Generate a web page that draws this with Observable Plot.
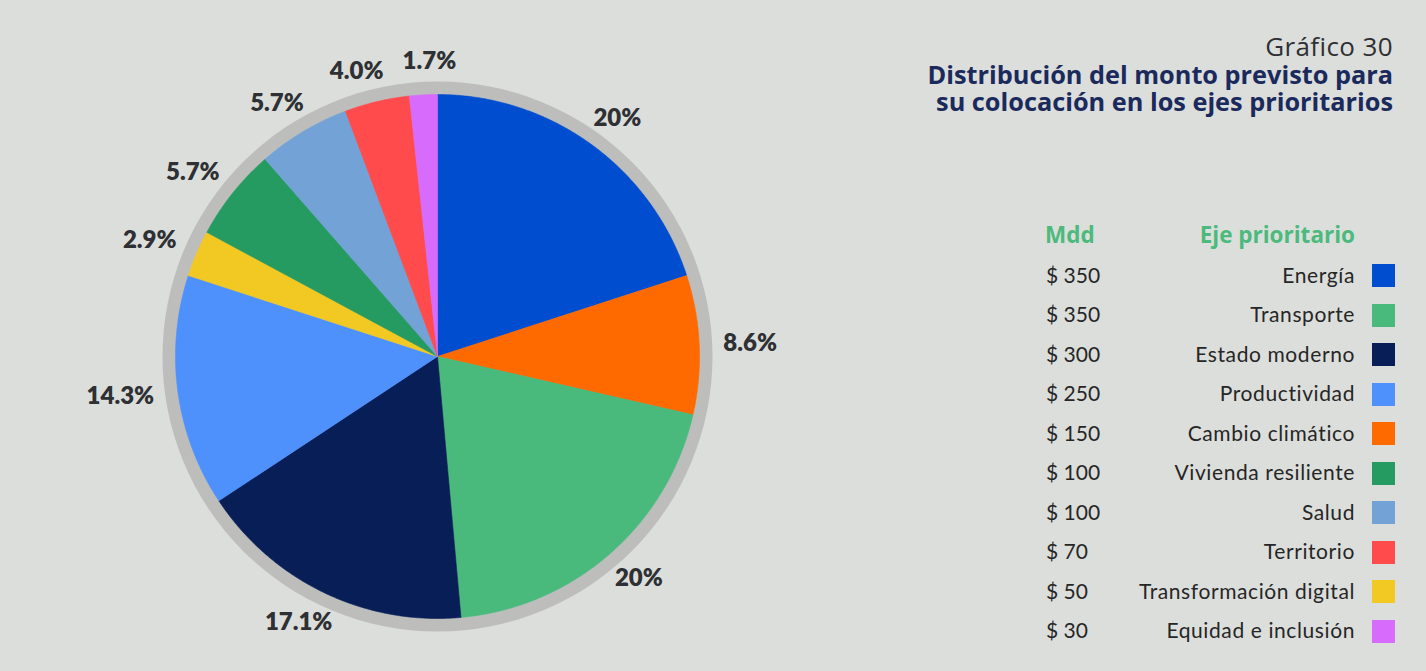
<!DOCTYPE html>
<html>
<head>
<meta charset="utf-8">
<script src="https://cdn.jsdelivr.net/npm/d3@7"></script>
<script src="https://cdn.jsdelivr.net/npm/@observablehq/plot@0.6"></script>
<style>
  html, body { margin: 0; padding: 0; }
  body { width: 1426px; height: 671px; background: #dcdedb; overflow: hidden; position: relative; font-family: Lato, "Open Sans", sans-serif; }
  #pie { position: absolute; left: 0; top: 0; }
  .title { position: absolute; right: 33px; text-align: right; white-space: nowrap; font-family: "Open Sans", Lato, sans-serif; }
  .t0 { top: 33px; font-size: 26px; letter-spacing: 0.4px; color: #2f3033; font-weight: 400; line-height: 27px; }
  .t1 { font-size: 25.3px; color: #1b2a5c; font-weight: 700; line-height: 27px; }
  .hdr { position: absolute; font-family: "Open Sans", Lato, sans-serif; font-size: 22.5px; font-weight: 700; color: #4cba7c; line-height: 28px; white-space: nowrap; }
  .row { position: absolute; font-size: 21px; color: #262626; line-height: 26px; white-space: nowrap; }
  .name { letter-spacing: 0.6px; }
  .sw { position: absolute; width: 23px; height: 23px; }
</style>
</head>
<body>
<div id="pie"></div>
<div class="title t0">Gráfico 30</div>
<div class="title t1" style="top:61px">Distribución del monto previsto para</div>
<div class="title t1" style="top:88px">su colocación en los ejes prioritarios</div>
<div id="legend"></div>
<script>
// Data (legend order)
const names = ["Energía","Transporte","Estado moderno","Productividad","Cambio climático","Vivienda resiliente","Salud","Territorio","Transformación digital","Equidad e inclusión"];
const mdd = [350,350,300,250,150,100,100,70,50,30];
const colors = ["#004dcf","#4aba7c","#081e57","#4f91fc","#ff6a00","#259b61","#72a2d6","#ff4b4b","#f2c922","#d66bfc"];
// Pie order (clockwise from 12 o'clock)
const pieOrder = ["Energía","Cambio climático","Transporte","Estado moderno","Productividad","Transformación digital","Vivienda resiliente","Salud","Territorio","Equidad e inclusión"];
const pctLabels = ["20%","8.6%","20%","17.1%","14.3%","2.9%","5.7%","5.7%","4.0%","1.7%"];
const legendHeaders = ["Mdd","Eje prioritario"];

const valueOf = Object.fromEntries(names.map((n, i) => [n, mdd[i]]));
const pieValues = pieOrder.map(n => valueOf[n]);
const arcs = d3.pie().sort(null).value(d => d)(pieValues);

const R = 262, RING = 275, LR = 282;
// Build slice polygons from the arc angles
const polys = [];
arcs.forEach((a, i) => {
  const name = pieOrder[i];
  polys.push({name, x: 0, y: 0});
  const n = Math.max(2, Math.ceil((a.endAngle - a.startAngle) / 0.008));
  for (let k = 0; k <= n; k++) {
    const t = a.startAngle + (a.endAngle - a.startAngle) * k / n;
    polys.push({name, x: R * Math.sin(t), y: R * Math.cos(t)});
  }
  polys.push({name, x: 0, y: 0});
});

// Label placement: just outside the ring at the mid-angle, spread apart when crowded
const lab = arcs.map((a, i) => ({text: pctLabels[i], m: (a.startAngle + a.endAngle) / 2, w: pctLabels[i].length * 14 + 16, h: 26}));
function pos(l) {
  return {x: LR * Math.sin(l.m) + Math.sin(l.m) * (l.w - 10) / 2, y: LR * Math.cos(l.m) + Math.cos(l.m) * l.h / 2};
}
for (let iter = 0; iter < 300; iter++) {
  let moved = false;
  for (let i = 0; i < lab.length; i++) {
    const a = lab[i], b = lab[(i + 1) % lab.length];
    const pa = pos(a), pb = pos(b);
    const ox = (a.w + b.w) / 2 - Math.abs(pa.x - pb.x);
    const oy = (a.h + b.h) / 2 - Math.abs(pa.y - pb.y);
    if (ox > 0 && oy > 0) { a.m -= 0.004; b.m += 0.004; moved = true; }
  }
  if (!moved) break;
}
const labels = lab.map(l => ({text: l.text, ...pos(l)}));

const W = 874, H = 671, CX = 437, CY = 356;
const chart = Plot.plot({
  width: W, height: H,
  margin: 0,
  style: {background: "transparent", overflow: "visible"},
  x: {domain: [-CX, W - CX], axis: null},
  y: {domain: [CY - H, CY], axis: null},
  color: {domain: names, range: colors},
  marks: [
    Plot.dot([{x: 0, y: 0}], {x: "x", y: "y", r: RING, fill: "#bdbebc", stroke: "none"}),
    Plot.line(polys, {x: "x", y: "y", z: "name", fill: "name", stroke: "name", strokeWidth: 0.6, curve: "linear"}),
    Plot.text(labels, {x: "x", y: "y", text: "text", fontSize: 24, fontWeight: 800, fill: "#2e3033", fontFamily: "Lato, sans-serif", textAnchor: "middle"})
  ]
});
document.getElementById("pie").appendChild(chart);

// Legend
const leg = document.getElementById("legend");
const h1 = document.createElement("div");
h1.className = "hdr"; h1.style.left = "1045px"; h1.style.top = "221px"; h1.textContent = legendHeaders[0];
leg.appendChild(h1);
const h2 = document.createElement("div");
h2.className = "hdr"; h2.style.right = (1426 - 1355) + "px"; h2.style.top = "221px"; h2.textContent = legendHeaders[1];
leg.appendChild(h2);
names.forEach((n, i) => {
  const cy = 275.5 + i * 39.55;
  const a = document.createElement("div");
  a.className = "row"; a.style.left = "1046px"; a.style.top = (cy - 14) + "px"; a.textContent = "$ " + mdd[i];
  leg.appendChild(a);
  const b = document.createElement("div");
  b.className = "row name"; b.style.right = (1426 - 1355) + "px"; b.style.top = (cy - 14) + "px"; b.textContent = n;
  leg.appendChild(b);
  const s = document.createElement("div");
  s.className = "sw"; s.style.left = "1372px"; s.style.top = (cy - 11.5) + "px"; s.style.background = colors[i];
  leg.appendChild(s);
});
</script>
</body>
</html>
